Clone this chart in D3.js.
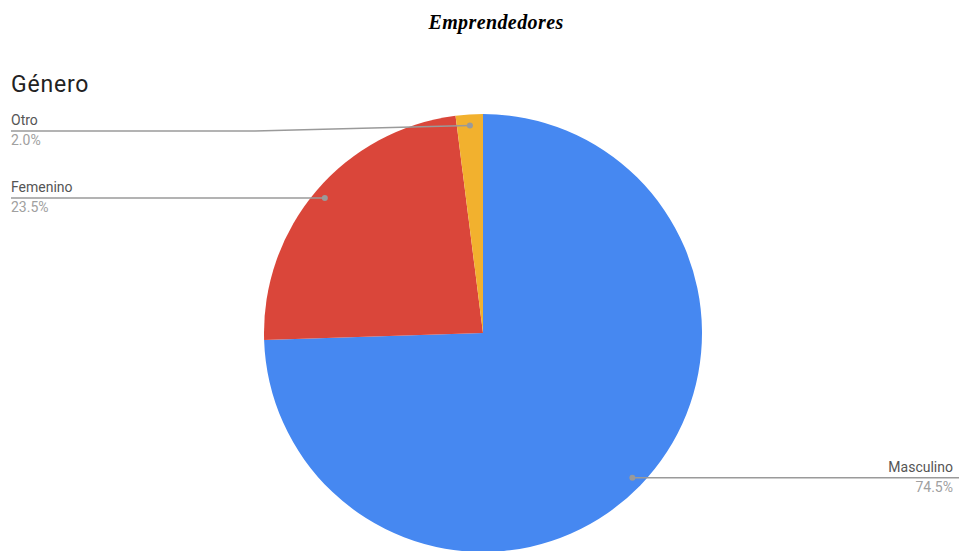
<!DOCTYPE html>
<html>
<head>
<meta charset="utf-8">
<script src="https://cdn.jsdelivr.net/npm/d3@7"></script>
<style>
  html, body { margin: 0; padding: 0; background: #fff; }
  svg { display: block; }
</style>
</head>
<body>
<svg id="chart" width="959" height="551"></svg>
<script>
// Gender breakdown of entrepreneurs
const categories = ["Masculino", "Femenino", "Otro"];
const values = [74.5, 23.5, 2.0];
const colors = ["#4688F1", "#DA463A", "#F2B12E"];

const width = 959, height = 551;
const cx = 483, cy = 333, R = 219;

const svg = d3.select("#chart");

// Page title
svg.append("text")
  .attr("x", 496).attr("y", 29)
  .attr("text-anchor", "middle")
  .style("font-family", "'Liberation Serif', 'Times New Roman', serif")
  .style("font-weight", "bold")
  .style("font-style", "italic")
  .style("font-size", "20px")
  .style("letter-spacing", "0.4px")
  .style("fill", "#000")
  .text("Emprendedores");

// Chart title
svg.append("text")
  .attr("x", 11).attr("y", 92)
  .style("font-family", "Roboto, sans-serif")
  .style("font-size", "23px")
  .style("letter-spacing", "0.8px")
  .style("fill", "#222")
  .text("Género");

const data = categories.map((c, i) => ({ name: c, value: values[i], color: colors[i] }));

const pie = d3.pie().sort(null).value(d => d.value);
const arcs = pie(data);
const arc = d3.arc().innerRadius(0).outerRadius(R);
const dotArc = d3.arc().innerRadius(208).outerRadius(208);

const g = svg.append("g").attr("transform", `translate(${cx},${cy})`);
g.selectAll("path.slice")
  .data(arcs)
  .join("path")
  .attr("class", "slice")
  .attr("d", arc)
  .attr("fill", d => d.data.color);

// Label placement: side and vertical position of each leader line
const labelLayout = {
  "Masculino": { side: "right", x: 953, lineEnd: 959 },
  "Femenino":  { side: "left",  lineY: 198, x: 11 },
  "Otro":      { side: "left",  lineY: 131, x: 11, bendX: 255 }
};

const labels = svg.append("g");
arcs.forEach(a => {
  const L = labelLayout[a.data.name];
  const [dx, dy] = dotArc.centroid(a);
  const px = cx + dx, py = cy + dy;
  const lineY = L.lineY !== undefined ? L.lineY : py;
  let pts;
  if (L.side === "right") {
    pts = [[px, py], [L.lineEnd, lineY]];
  } else if (L.bendX) {
    pts = [[px, py], [L.bendX, lineY], [L.x, lineY]];
  } else {
    pts = [[px, py], [L.x, lineY]];
  }
  labels.append("path")
    .attr("d", d3.line()(pts))
    .attr("fill", "none")
    .attr("stroke", "#9a9a9a")
    .attr("stroke-width", 1.5);
  labels.append("circle")
    .attr("cx", px).attr("cy", py).attr("r", 3)
    .attr("fill", "#9a9a9a");
  const anchor = L.side === "right" ? "end" : "start";
  labels.append("text")
    .attr("x", L.x).attr("y", lineY - 6)
    .attr("text-anchor", anchor)
    .style("font-family", "Roboto, sans-serif")
    .style("font-size", "14px")
    .style("fill", "#555")
    .text(a.data.name);
  labels.append("text")
    .attr("x", L.x).attr("y", lineY + 14)
    .attr("text-anchor", anchor)
    .style("font-family", "Roboto, sans-serif")
    .style("font-size", "14px")
    .style("fill", "#a0a0a0")
    .text(d3.format(".1f")(a.data.value) + "%");
});
</script>
</body>
</html>
